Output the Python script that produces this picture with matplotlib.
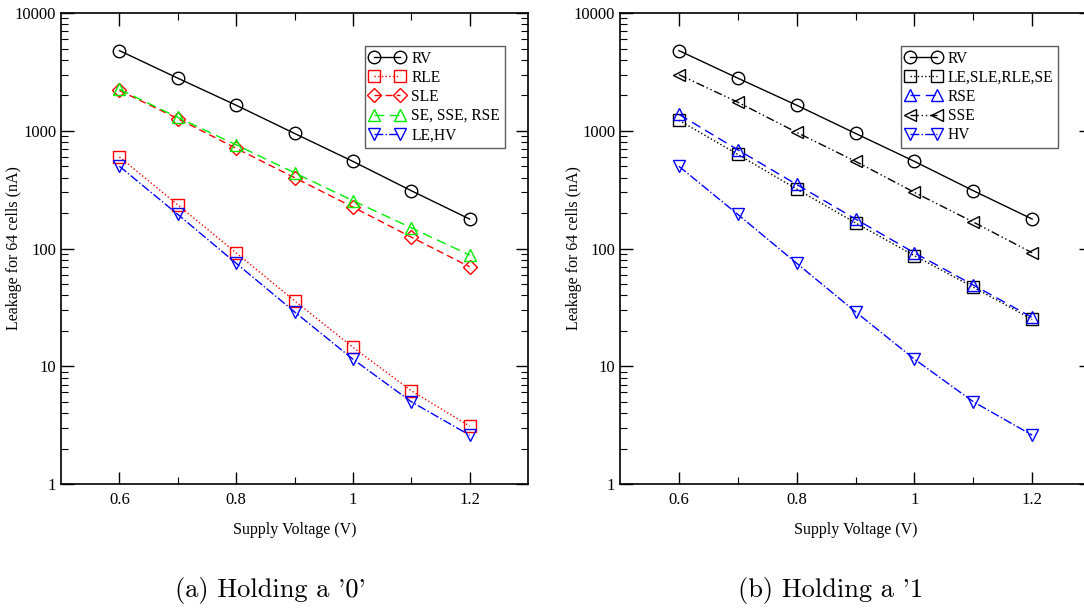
import matplotlib.pyplot as plt
from matplotlib.ticker import FixedLocator, NullFormatter, LogLocator

# Supply voltage (V)
volts = [0.6, 0.7, 0.8, 0.9, 1.0, 1.1, 1.2]

# (a) holding '0' -- leakage for 64 cells (nA)
rv = [4800, 2800, 1650, 950, 550, 310, 178]
rle_a = [600, 235, 92, 36, 14.5, 6.2, 3.1]
sle_a = [2200, 1270, 710, 400, 225, 125, 70]
se_sse_rse_a = [2250, 1300, 760, 440, 255, 150, 88]
le_hv_a = [500, 195, 75, 29, 11.5, 5.0, 2.6]

# (b) holding '1'
le_sle_rle_se_b = [1230, 630, 320, 165, 87, 47, 25]
rse_b = [1380, 690, 350, 178, 92, 49, 26]
sse_b = [3000, 1750, 970, 550, 300, 168, 92]
hv_b = [500, 195, 75, 29, 11.5, 5.0, 2.6]

xticks = [0.6, 0.8, 1.0, 1.2]
xtick_labels = ['0.6', '0.8', '1', '1.2']
yticks = [1, 10, 100, 1000, 10000]
ytick_labels = ['1', '10', '100', '1000', '10000']

plt.rcParams['font.family'] = ['Liberation Serif', 'DejaVu Serif']

fig = plt.figure(figsize=(10.84, 6.14), dpi=100)
axA = fig.add_axes([0.0563, 0.2117, 0.4308, 0.767])
axB = fig.add_axes([0.572, 0.2117, 0.4345, 0.767])

mk = dict(markersize=9, markerfacecolor='none', markeredgewidth=1.0)

axA.plot(volts, rv, color='black', ls='-', marker='o', lw=1.0, label='RV', **mk)
axA.plot(volts, rle_a, color='red', ls=':', marker='s', lw=1.0, label='RLE', **mk)
axA.plot(volts, sle_a, color='red', ls=(0, (5, 3)), marker='D', lw=1.0, label='SLE',
         markersize=7, markerfacecolor='none')
axA.plot(volts, se_sse_rse_a, color='#00ee00', ls=(0, (7, 4)), marker='^', lw=1.0,
         label='SE, SSE, RSE', **mk)
axA.plot(volts, le_hv_a, color='blue', ls='-.', marker='v', lw=1.0, label='LE,HV', **mk)

axB.plot(volts, rv, color='black', ls='-', marker='o', lw=1.0, label='RV', **mk)
axB.plot(volts, le_sle_rle_se_b, color='black', ls=':', marker='s', lw=1.0,
         label='LE,SLE,RLE,SE', **mk)
axB.plot(volts, rse_b, color='blue', ls=(0, (7, 4)), marker='^', lw=1.0, label='RSE', **mk)
axB.plot(volts, sse_b, color='black', ls=(0, (6, 2, 1, 2, 1, 2)), marker='<', lw=1.0,
         label='SSE', **mk)
axB.plot(volts, hv_b, color='blue', ls='-.', marker='v', lw=1.0, label='HV', **mk)

for ax in (axA, axB):
    ax.set_yscale('log')
    ax.set_xlim(0.5, 1.3)
    ax.set_ylim(1, 10000)
    ax.set_xticks(xticks)
    ax.set_xticklabels(xtick_labels)
    ax.xaxis.set_minor_locator(FixedLocator([0.7, 0.9, 1.1]))
    ax.set_yticks(yticks)
    ax.set_yticklabels(ytick_labels)
    ax.yaxis.set_minor_locator(LogLocator(base=10, subs=range(2, 10)))
    ax.yaxis.set_minor_formatter(NullFormatter())
    ax.tick_params(which='both', direction='in', top=True, right=True, labelsize=12)
    ax.tick_params(which='major', length=9, width=1.0)
    ax.tick_params(which='minor', length=5, width=0.8)
    ax.tick_params(axis='x', pad=6)
    for s in ax.spines.values():
        s.set_linewidth(1.2)
    ax.set_xlabel('Supply Voltage (V)', fontsize=11.5, labelpad=10)
    ax.set_ylabel('Leakage for 64 cells (nA)', fontsize=11.5)
    leg = ax.legend(loc='upper right', bbox_to_anchor=(0.95, 0.93) if ax is axA else (0.93, 0.93),
                    fontsize=11.2, frameon=True, fancybox=False, edgecolor='#333333',
                    numpoints=2, handlelength=2.3, handletextpad=0.4, labelspacing=0.2,
                    borderpad=0.3, borderaxespad=0)
    leg.get_frame().set_linewidth(1.0)

axA.yaxis.set_label_coords(-0.083, 0.5)
axB.yaxis.set_label_coords(-0.081, 0.5)

fig.text(0.161, 0.027, "(a) Holding a '0'", fontsize=19, family='cmr10')
fig.text(0.681, 0.027, "(b) Holding a '1", fontsize=19, family='cmr10')

fig.savefig('out.png', dpi=100)
